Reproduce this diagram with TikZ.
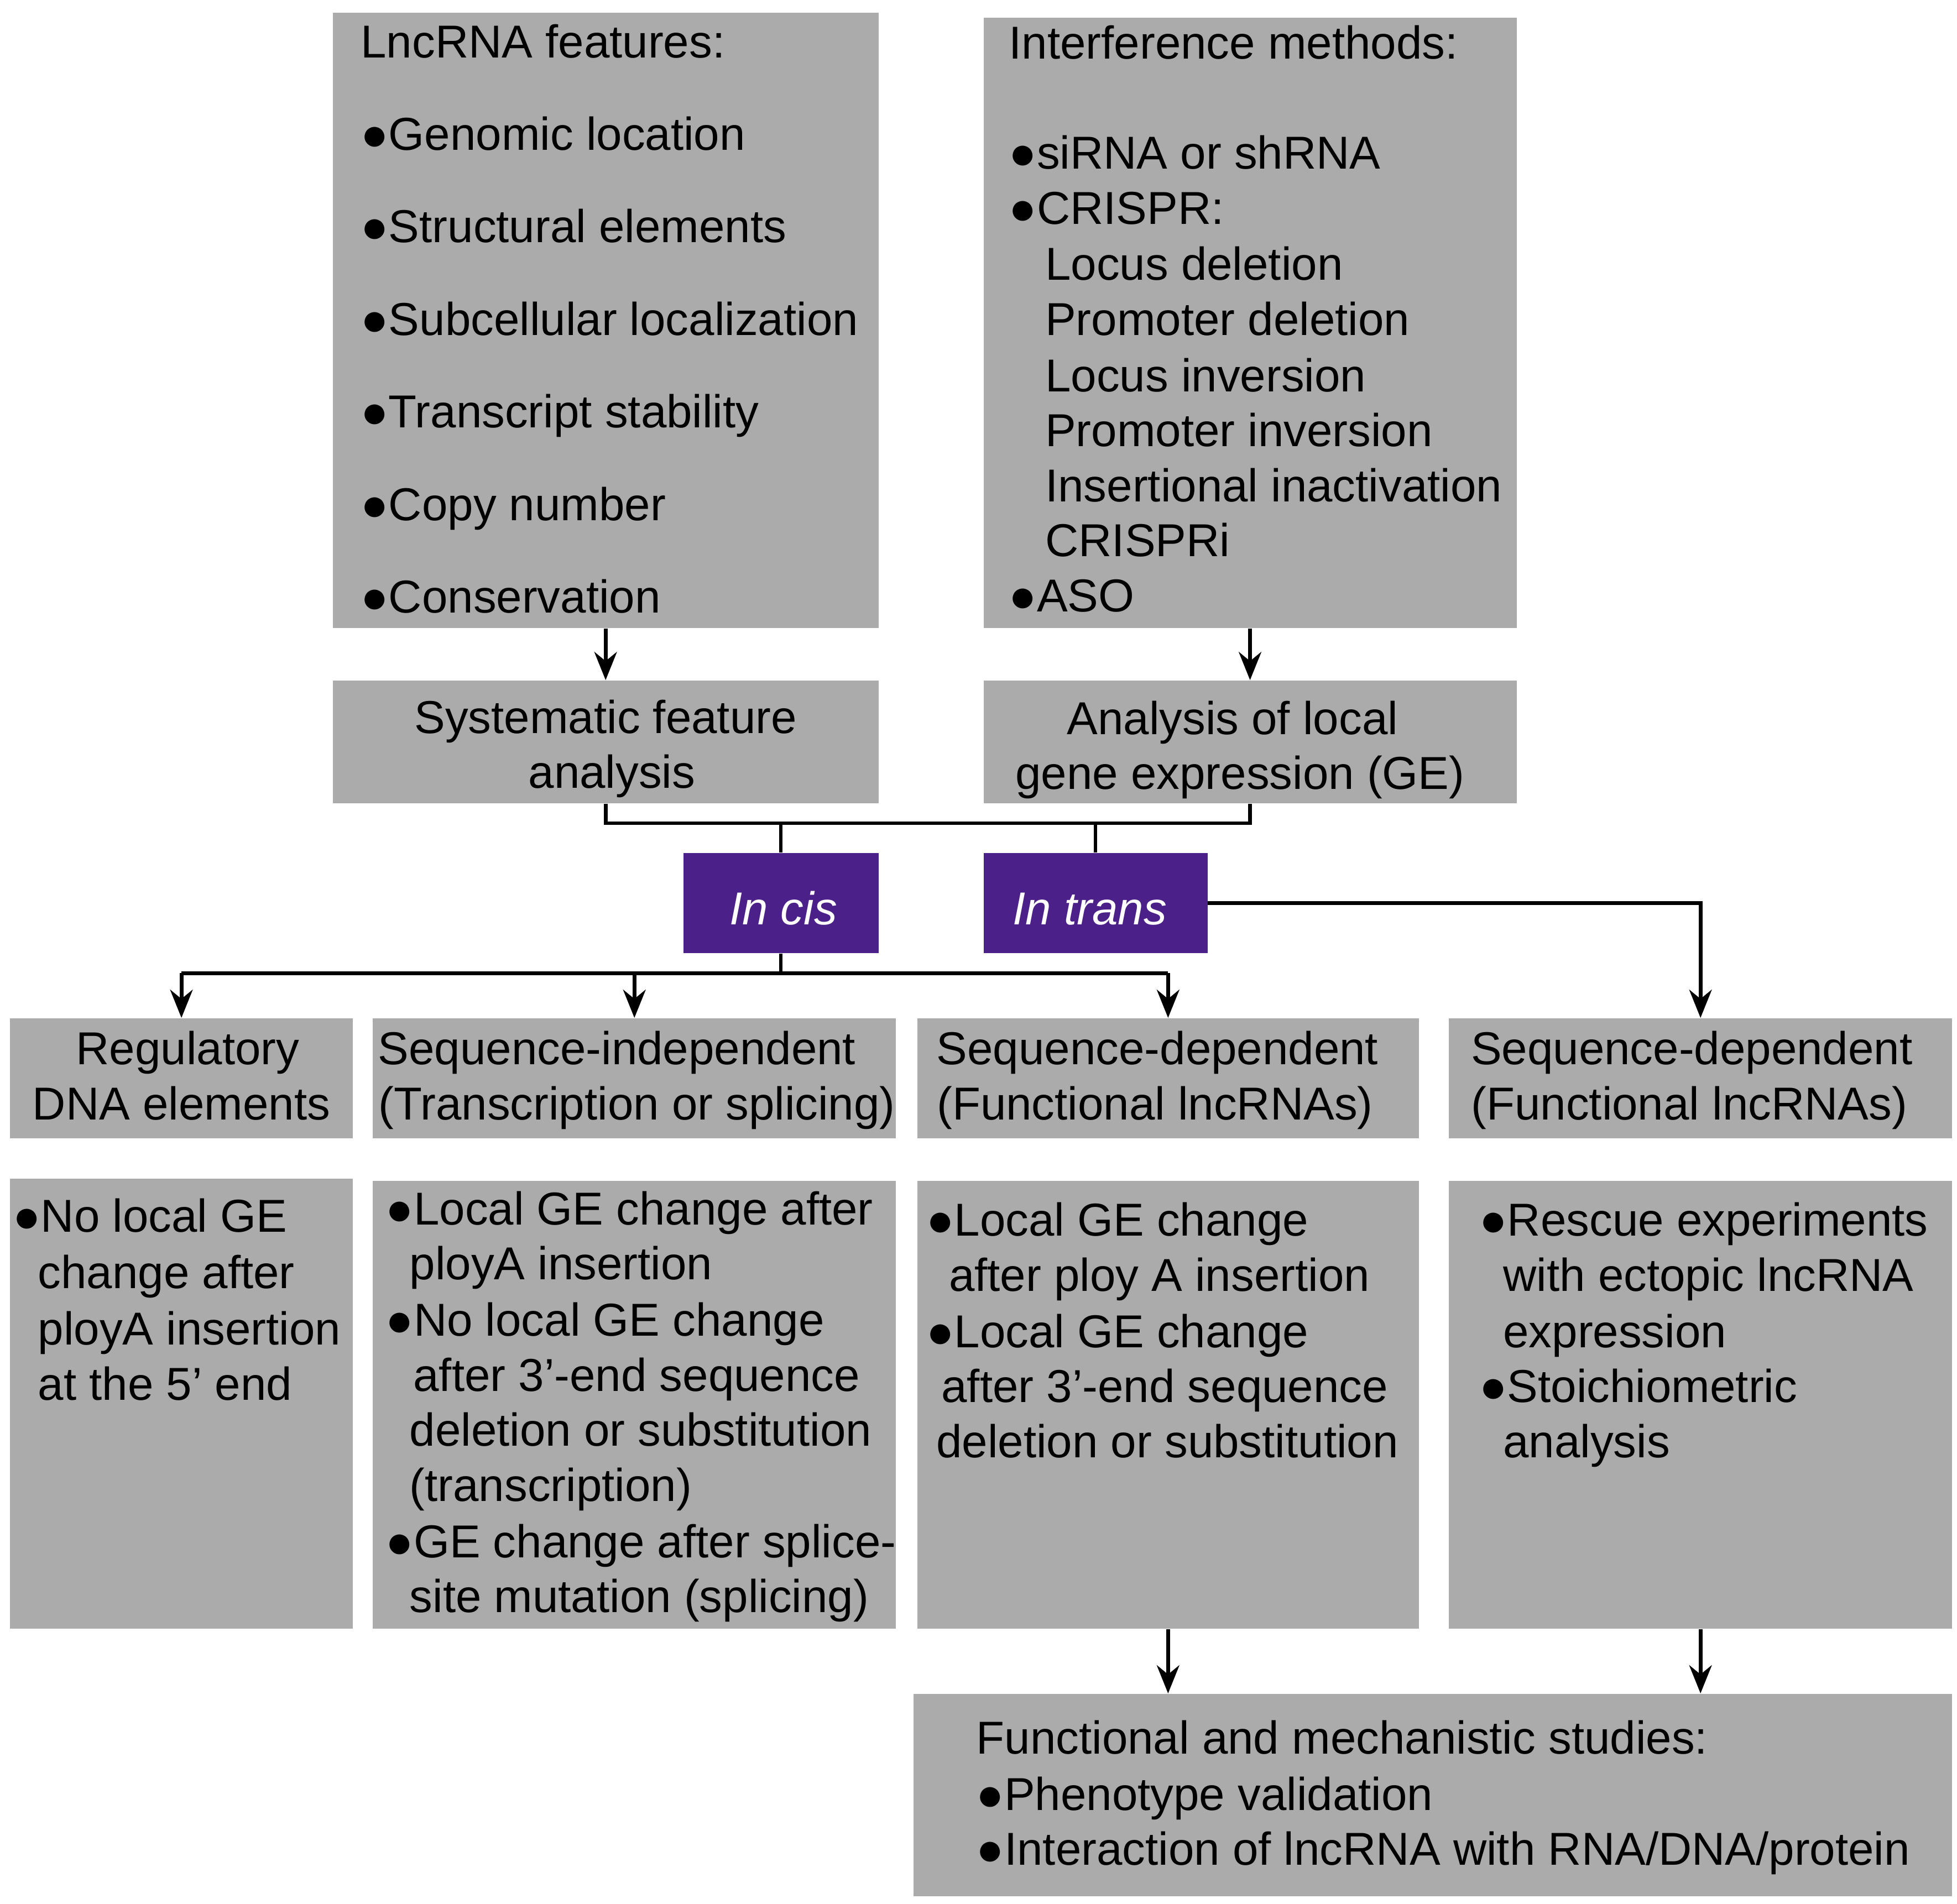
\documentclass[tikz,border=0pt]{standalone}
\usepackage{fontspec}
\setmainfont{Liberation Sans}
\usetikzlibrary{arrows.meta}
\definecolor{boxgray}{HTML}{ABABAB}
\definecolor{purp}{HTML}{4B2189}
\newcommand{\bx}[6][box]{\node[#1,minimum width={(#5-#3)*0.02cm},minimum height={(#6-#4)*0.02cm}] (#2) at ({(#3+#5)/2},{(#4+#6)/2}) {};}
\newcommand{\tl}[4]{\node[txt,anchor=base west] (#1) at (#2,#3+13) {#4};}
\newcommand{\tc}[4]{\node[txt,anchor=base] (#1) at (#2,#3+13) {#4};}
\begin{document}
\begin{tikzpicture}[x=0.02cm,y=-0.02cm,
  box/.style={fill=boxgray,draw=none,inner sep=0pt},
  pbox/.style={fill=purp,draw=none,inner sep=0pt},
  txt/.style={inner sep=0pt,font=\fontsize{21}{25}\selectfont},
  conn/.style={line width=0.06cm},
  arr/.style={conn,-{Stealth[length=0.45cm,width=0.36cm]}}]
\useasboundingbox[fill=white] (0,0) rectangle (1564,1522);
\bx{feat}{266}{10}{702}{502}
\bx{intf}{786}{14}{1212}{502}
\bx{sys}{266}{544}{702}{642}
\bx{ana}{786}{544}{1212}{642}
\bx[pbox]{cis}{546}{682}{702}{762}
\bx[pbox]{trans}{786}{682}{965}{762}
\bx{reg}{8}{814}{282}{910}
\bx{si}{298}{814}{716}{910}
\bx{sd}{733}{814}{1134}{910}
\bx{sdb}{1158}{814}{1560}{910}
\bx{la}{8}{942}{282}{1302}
\bx{lb}{298}{944}{716}{1302}
\bx{lc}{733}{944}{1134}{1302}
\bx{ld}{1158}{944}{1560}{1302}
\bx{fun}{730}{1354}{1560}{1516}
% texts
\tl{f0}{288}{33}{LncRNA features:}
\tl{f1}{288}{107}{●Genomic location}
\tl{f2}{288}{181}{●Structural elements}
\tl{f3}{288}{255}{●Subcellular localization}
\tl{f4}{288}{329}{●Transcript stability}
\tl{f5}{288}{403}{●Copy number}
\tl{f6}{288}{477}{●Conservation}
\tl{i0}{806}{34}{Interference methods:}
\tl{i1}{806}{122}{●siRNA or shRNA}
\tl{i2}{806}{166}{●CRISPR:}
\tl{i3}{835}{211}{Locus deletion}
\tl{i4}{835}{255}{Promoter deletion}
\tl{i5}{835}{300}{Locus inversion}
\tl{i6}{835}{344}{Promoter inversion}
\tl{i7}{835}{388}{Insertional inactivation}
\tl{i8}{835}{432}{CRISPRi}
\tl{i9}{806}{476}{●ASO}
\tc{s1}{484}{573}{Systematic feature}
\tc{s2}{489}{617}{analysis}
\tc{a1}{985}{574}{Analysis of local}
\tc{a2}{991}{618}{gene expression (GE)}
\tc{c1}{626}{726}{\color{white}\itshape In cis}
\tc{t1}{871}{726}{\color{white}\itshape In trans}
\tc{r1}{150}{838}{Regulatory}
\tc{r2}{145}{882}{DNA elements}
\tc{si1}{493}{838}{Sequence-independent}
\tc{si2}{509}{882}{(Transcription or splicing)}
\tc{sd1}{925}{838}{Sequence-dependent}
\tc{sd2}{923}{882}{(Functional lncRNAs)}
\tc{sdb1}{1352}{838}{Sequence-dependent}
\tc{sdb2}{1350}{882}{(Functional lncRNAs)}
\tl{la1}{10}{972}{●No local GE}
\tl{la2}{30}{1017}{change after}
\tl{la3}{30}{1062}{ployA insertion}
\tl{la4}{30}{1106}{at the 5’ end}
\tl{lb1}{308}{966}{●Local GE change after}
\tl{lb2}{327}{1010}{ployA insertion}
\tl{lb3}{308}{1055}{●No local GE change}
\tl{lb4}{330}{1099}{after 3’-end sequence}
\tl{lb5}{327}{1143}{deletion or substitution}
\tl{lb6}{327}{1187}{(transcription)}
\tl{lb7}{308}{1232}{●GE change after splice-}
\tl{lb8}{327}{1276}{site mutation (splicing)}
\tl{lc1}{740}{975}{●Local GE change}
\tl{lc2}{758}{1019}{after ploy A insertion}
\tl{lc3}{740}{1064}{●Local GE change}
\tl{lc4}{752}{1108}{after 3’-end sequence}
\tl{lc5}{748}{1152}{deletion or substitution}
\tl{ld1}{1182}{975}{●Rescue experiments}
\tl{ld2}{1201}{1019}{with ectopic lncRNA}
\tl{ld3}{1201}{1064}{expression}
\tl{ld4}{1182}{1108}{●Stoichiometric}
\tl{ld5}{1201}{1152}{analysis}
\tl{fu1}{780}{1389}{Functional and mechanistic studies:}
\tl{fu2}{780}{1434}{●Phenotype validation}
\tl{fu3}{780}{1478}{●Interaction of lncRNA with RNA/DNA/protein}
% connectors
\coordinate (bl) at (484,658);
\coordinate (hc) at (624,778);
\draw[arr] (feat.south) -- (sys.north);
\draw[arr] (intf.south) -- (ana.north);
\draw[conn] (sys.south) -- (bl) -- (bl -| ana.south) -- (ana.south);
\draw[conn] (cis.north) -- (cis.north |- bl);
\draw[conn] (trans.north) -- (trans.north |- bl);
\draw[conn] (cis.south) -- (hc);
\draw[conn] (hc -| reg.north) -- (hc -| sd.north);
\draw[arr] (hc -| reg.north) -- (reg.north);
\draw[arr] (hc -| si.north) -- (si.north);
\draw[arr] (hc -| sd.north) -- (sd.north);
\draw[arr] (trans.east) -| (sdb.north);
\draw[arr] (lc.south) -- (lc.south |- fun.north);
\draw[arr] (ld.south) -- (ld.south |- fun.north);
\end{tikzpicture}
\end{document}
